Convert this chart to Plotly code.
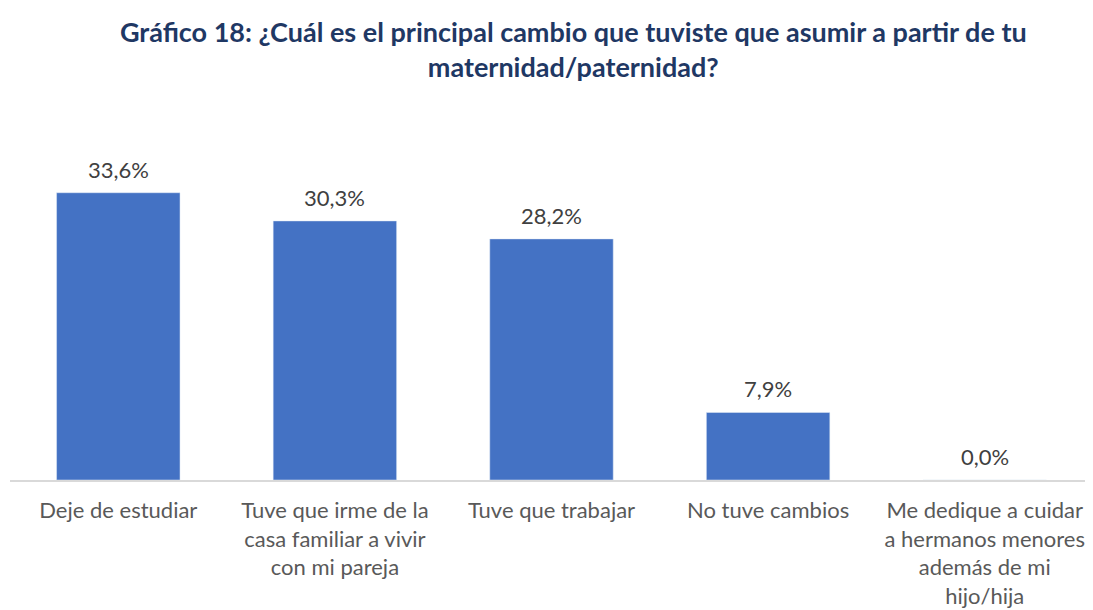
import plotly.graph_objects as go

categories = [
    "Deje de estudiar",
    "Tuve que irme de la<br>casa familiar a vivir<br>con mi pareja",
    "Tuve que trabajar",
    "No tuve cambios",
    "Me dedique a cuidar<br>a hermanos menores<br>además de mi<br>hijo/hija",
]
values = [33.6, 30.3, 28.2, 7.9, 0.0]
labels = [f"{v:.1f}%".replace(".", ",") for v in values]

title = ("<b>Gráfico 18: ¿Cuál es el principal cambio que tuviste que asumir a partir de tu"
         "<br>maternidad/paternidad?</b>")

fig = go.Figure()
fig.add_trace(go.Bar(
    x=categories,
    y=values,
    marker=dict(color="#4472C4"),
    width=0.57,
))

# data labels above each bar
for cat, val, lab in zip(categories, values, labels):
    fig.add_annotation(x=cat, y=val, text=lab, showarrow=False,
                       yanchor="bottom", yshift=8,
                       font=dict(size=22, color="#404040"))

fig.update_layout(
    title=dict(text=title, x=0.521, xanchor="center", y=0.943, yanchor="top",
               font=dict(size=27, color="#1F3864", family="Lato")),
    font=dict(family="Lato", size=22, color="#595959"),
    plot_bgcolor="white",
    paper_bgcolor="white",
    width=1085,
    height=602,
    margin=dict(l=2, r=0, t=130, b=130),
    showlegend=False,
)
fig.update_xaxes(showline=True, linecolor="#D9D9D9", linewidth=1.5, ticks="",
                 ticklabelstandoff=10, tickfont=dict(size=22, color="#595959"))
fig.update_yaxes(range=[0, 40], visible=False, showgrid=False, zeroline=False)

fig.write_html("out.html")
